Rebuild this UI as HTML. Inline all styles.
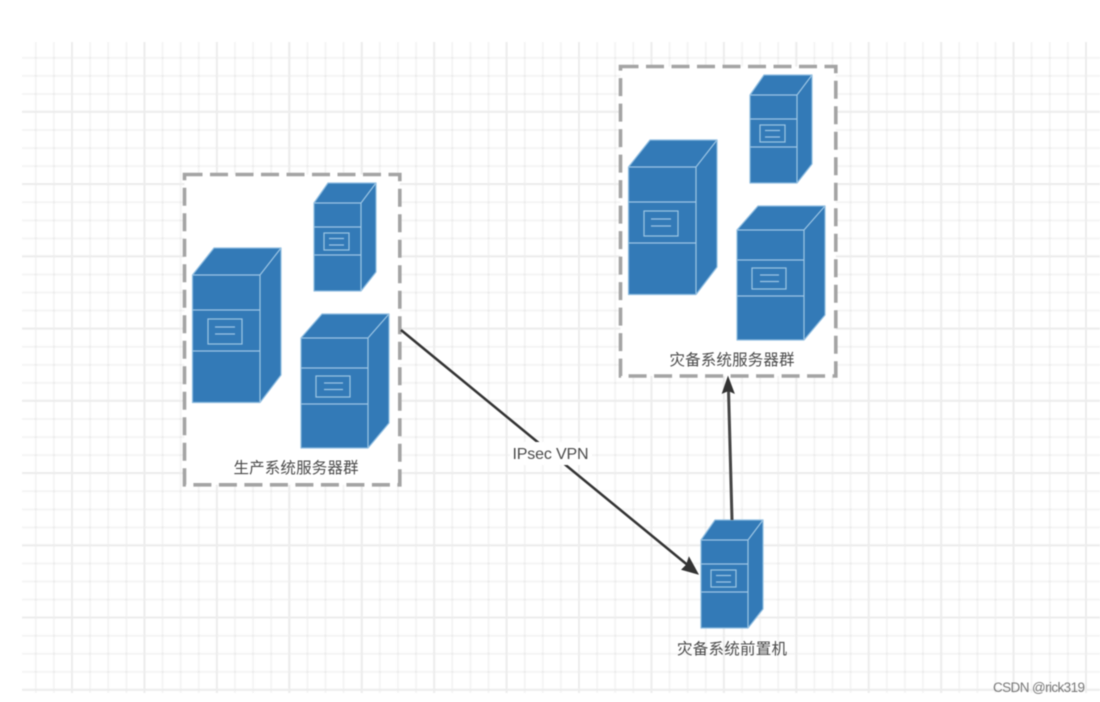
<!DOCTYPE html>
<html lang="zh">
<head>
<meta charset="utf-8">
<title>灾备系统网络拓扑</title>
<style>
html,body{margin:0;padding:0;background:#fff;}
body{width:1100px;height:702px;overflow:hidden;}
svg{display:block;filter:blur(.6px);}
text{font-family:"Liberation Sans","Noto Sans CJK SC",sans-serif;fill:#4a4a4a;}
.s{fill:#337ab7;stroke:#8fbde0;stroke-width:1.2;stroke-linejoin:round;}
.l{fill:none;stroke:#9cc5e4;stroke-width:1.2;}
.g{fill:#fff;stroke:#a4a4a4;stroke-width:3.600;stroke-dasharray:18 7.500;}
</style>
</head>
<body>
<svg width="1100" height="702" viewBox="0 0 1100 702" xmlns="http://www.w3.org/2000/svg">
<defs>
<g id="big">
<path class="s" d="M192.500 275L214 248H281V375L260 402.500H192.500Z"/>
<path class="l" d="M192.500 275H260V402.500M260 275L281 248M192.500 310H260M192.500 351H260"/>
<rect class="l" x="208" y="319" width="34" height="25"/>
<path class="l" d="M215 327H235M215 334H235"/>
</g>
<g id="small">
<path class="s" d="M314 203L328 183H376V272L361 291H314Z"/>
<path class="l" d="M314 203H361V291M361 203L376 183M314 227H361M314 255H361"/>
<rect class="l" x="324" y="233" width="25" height="17"/>
<path class="l" d="M329 238.500H344M329 245H344"/>
</g>
<g id="med">
<path class="s" d="M301 338L322 314H389V423L368 448H301Z"/>
<path class="l" d="M301 338H368V448M368 338L389 314M301 368H368M301 404H368"/>
<rect class="l" x="316" y="376" width="34" height="21"/>
<path class="l" d="M324 383H343M324 389.500H343"/>
</g>
</defs>

<line x1="22" y1="367.500" x2="1100" y2="367.500" stroke="#f5f5f5" stroke-width="651" stroke-dasharray="2 16.107" stroke-dashoffset="5.307"/>
<line x1="561" y1="42" x2="561" y2="693" stroke="#f5f5f5" stroke-width="1078" stroke-dasharray="2 16.060" stroke-dashoffset="3.240" style="mix-blend-mode:multiply"/>
<line x1="22" y1="367.500" x2="1100" y2="367.500" stroke="#ededed" stroke-width="651" stroke-dasharray="2 70.430" stroke-dashoffset="23.430"/>
<line x1="561" y1="42" x2="561" y2="693" stroke="#ededed" stroke-width="1078" stroke-dasharray="2 70.250" stroke-dashoffset="3.500"/>

<rect class="g" x="184.500" y="174.500" width="215.300" height="310.300"/>
<use href="#big"/>
<use href="#small"/>
<use href="#med"/>
<text x="233.500" y="473" font-size="15.500" textLength="125">生产系统服务器群</text>

<rect class="g" x="620.500" y="66.500" width="215.300" height="309.500"/>
<use href="#big" transform="translate(436 -108)"/>
<use href="#small" transform="translate(436 -108)"/>
<use href="#med" transform="translate(436 -108)"/>
<text x="669.500" y="365" font-size="15.500" textLength="125">灾备系统服务器群</text>

<use href="#small" transform="translate(387 337)"/>
<text x="677" y="654" font-size="15.500" textLength="110">灾备系统前置机</text>

<path d="M401 330L690 567" fill="none" stroke="#333" stroke-width="2.500"/>
<path d="M698 574L682 569.500L686.500 565L689 557.500Z" fill="#333" stroke="#333" stroke-width="1"/>
<path d="M732 520L728.500 390" fill="none" stroke="#444" stroke-width="3"/>
<path d="M728 377L734 393L728.500 390.500L722.500 393Z" fill="#333" stroke="#333" stroke-width="1"/>

<rect x="510" y="442" width="82" height="23" fill="#fff"/>
<text x="512.500" y="459" font-size="16" textLength="76">IPsec VPN</text>

<text x="993" y="692" font-size="13.500" textLength="92" style="fill:#777">CSDN @rick319</text>
</svg>
</body>
</html>
